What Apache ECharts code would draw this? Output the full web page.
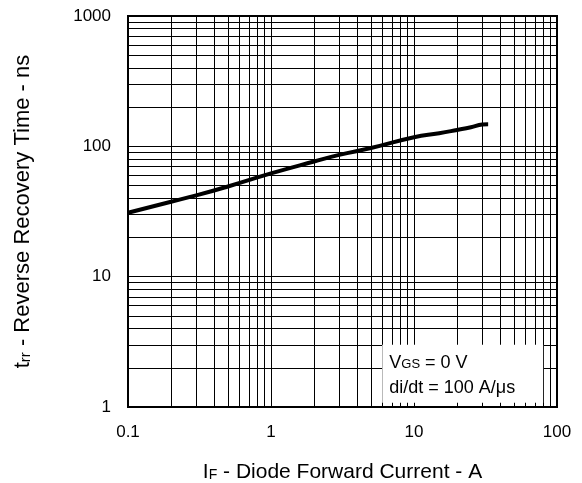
<!DOCTYPE html>
<html>
<head>
<meta charset="utf-8">
<script src="https://cdn.jsdelivr.net/npm/echarts@6/dist/echarts.min.js"></script>
<style>
  html, body { margin: 0; padding: 0; background: #fff; }
  #chart { width: 582px; height: 483px; }
</style>
</head>
<body>
<div id="chart"></div>
<script>
// Reverse recovery time vs. diode forward current
const forwardCurrent = [0.1, 0.2, 0.3, 0.5, 1, 2, 3, 5, 10, 15, 20, 25, 30, 33];
const recoveryTime = [30.9, 37.6, 42, 49.2, 62, 76.5, 86, 97, 117.5, 126, 133.5, 140, 147, 148];

const xTickLabels = ['0.1', '1', '10', '100'];
const yTickLabels = ['1', '10', '100', '1000'];

// minor grid values within each decade
const xMinor = [0.2, 0.3, 0.4, 0.5, 0.6, 0.7, 0.8, 0.9, 2, 3, 4, 5, 6, 7, 8, 9, 20, 30, 40, 50, 60, 70, 80, 90];
const yMinor = [2, 3, 4, 5, 6, 7, 8, 9, 20, 30, 40, 50, 60, 70, 80, 90, 200, 300, 400, 500, 600, 700, 800, 900];

// test-condition box corners (data units): [x0, y0, x1, y1]
const conditionBox = [6, 1.08, 80, 3];

const FONT = '"Liberation Sans", Arial, Helvetica, sans-serif';

const chart = echarts.init(document.getElementById('chart'), null, { renderer: 'canvas' });

const fmt = v => String(+Number(v).toPrecision(6));

const minorLines = [
  ...xMinor.map(v => ({ xAxis: v })),
  ...yMinor.map(v => ({ yAxis: v }))
];

const titleRich = size => ({
  a: { fontFamily: FONT, fontSize: size, color: '#000' },
  s: { fontFamily: FONT, fontSize: Math.round(size * 0.67), color: '#000', padding: [5, 0, 0, 0] }
});

chart.setOption({
  backgroundColor: '#fff',
  animation: false,
  grid: {
    left: 128, right: 25, top: 16, bottom: 76,
    outerBoundsMode: 'none',
    containLabel: false,
    show: true, borderColor: '#000', borderWidth: 2, backgroundColor: 'transparent'
  },
  xAxis: {
    type: 'log',
    logBase: 10,
    min: 0.1,
    max: 100,
    splitNumber: 3,
    axisLine: { show: true, onZero: false, lineStyle: { color: '#000', width: 2 } },
    axisTick: { show: false },
    axisLabel: {
      color: '#000', fontFamily: FONT, fontSize: 17, margin: 17,
      formatter: v => (xTickLabels.includes(fmt(v)) ? fmt(v) : '')
    },
    splitLine: { show: true, lineStyle: { color: '#000', width: 1 } },
    name: '{a|I}{s|F}{a| - Diode Forward Current - A}',
    nameLocation: 'middle',
    nameGap: 55,
    nameTextStyle: { rich: titleRich(21) }
  },
  yAxis: {
    type: 'log',
    logBase: 10,
    min: 1,
    max: 1000,
    splitNumber: 3,
    axisLine: { show: true, onZero: false, lineStyle: { color: '#000', width: 2 } },
    axisTick: { show: false },
    axisLabel: {
      color: '#000', fontFamily: FONT, fontSize: 17, margin: 17,
      formatter: v => (yTickLabels.includes(fmt(v)) ? fmt(v) : '')
    },
    splitLine: { show: true, lineStyle: { color: '#000', width: 1 } },
    name: '{a|t}{s|rr}{a| - Reverse Recovery Time - ns}',
    nameLocation: 'middle',
    nameGap: 94,
    nameRotate: 90,
    nameTextStyle: { rich: titleRich(22) }
  },
  series: [
    {
      // minor decade grid
      type: 'line',
      data: [],
      z: 1,
      silent: true,
      markLine: {
        z: 1,
        silent: true,
        symbol: ['none', 'none'],
        label: { show: false },
        lineStyle: { color: '#000', width: 1, type: 'solid' },
        emphasis: { disabled: true },
        data: minorLines
      }
    },
    {
      // test-condition box
      type: 'custom',
      z: 3,
      silent: true,
      data: [conditionBox],
      renderItem: (params, api) => {
        const p0 = api.coord([api.value(0), api.value(3)]);
        const p1 = api.coord([api.value(2), api.value(1)]);
        return {
          type: 'group',
          children: [
            {
              type: 'rect',
              shape: { x: p0[0], y: p0[1], width: p1[0] - p0[0], height: p1[1] - p0[1] },
              style: { fill: '#fff', stroke: null }
            },
            {
              type: 'text',
              x: p0[0] + 7,
              y: p0[1] + 6,
              style: {
                text: '{a|V}{s|GS}{a| = 0 V}\n{a|di/dt = 100 A/μs}',
                rich: {
                  a: { fontFamily: FONT, fontSize: 18, color: '#000', lineHeight: 25 },
                  s: { fontFamily: FONT, fontSize: 13, color: '#000', padding: [3, 0, 0, 0] }
                }
              }
            }
          ]
        };
      }
    },
    {
      type: 'line',
      data: forwardCurrent.map((x, i) => [x, recoveryTime[i]]),
      smooth: true,
      showSymbol: false,
      z: 5,
      lineStyle: { color: '#000', width: 4 }
    }
  ]
});
</script>
</body>
</html>
